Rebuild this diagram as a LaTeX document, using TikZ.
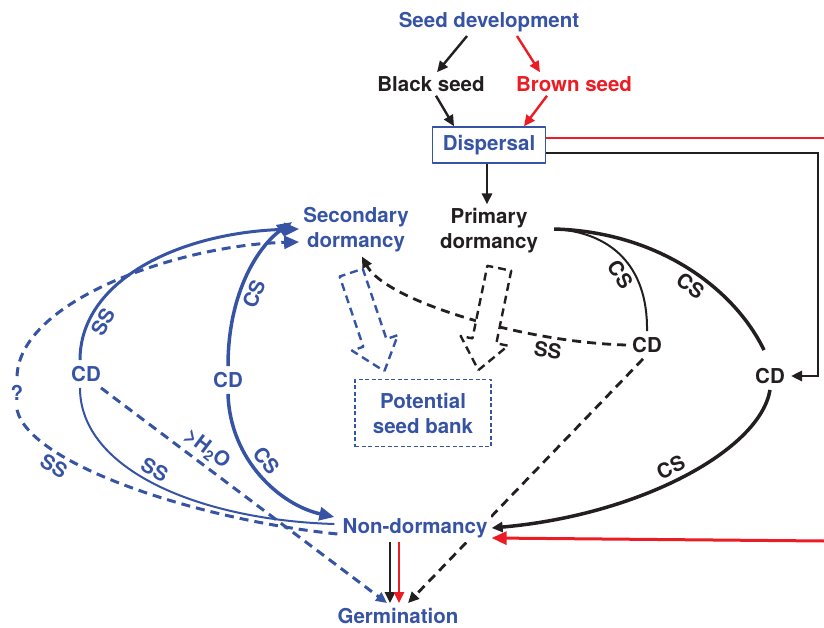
\documentclass[tikz,border=0pt]{standalone}
\usepackage{fontspec}
\setmainfont{TeX Gyre Heros}
\usetikzlibrary{arrows.meta,calc,shapes.arrows,backgrounds}

\definecolor{seedblue}{RGB}{55,84,164}
\definecolor{seedred}{RGB}{236,28,36}
\definecolor{seedblack}{RGB}{35,31,32}

\tikzset{
    every node/.style={font=\fontsize{20.5}{25}\selectfont\bfseries, inner sep=4pt},
    stage/.style={text=seedblue, align=center},
    cue/.style={inner sep=6pt},
    lab/.style={sloped, inner sep=4pt},
    dsh/.style={dash pattern=on 9pt off 6pt},
    arr/.style={-{Triangle[length=11pt,width=10pt]}},
    barr/.style={-{Triangle[length=15pt,width=13pt]}},
    hollow/.style={single arrow, draw, fill=white, line width=2.4pt, dash pattern=on 8pt off 5pt,
        minimum height=104pt, inner sep=11pt, single arrow head extend=12pt,
        single arrow tip angle=78, anchor=tip},
}

\begin{document}
\begin{tikzpicture}[x=1pt, y=-1pt, line join=round]
    \useasboundingbox (0,0) rectangle (824,628);
    % Stages
    \node [stage] (dev) at (489,22) {Seed development};
    \node [text=seedblack] (black) at (431,84) {Black seed};
    \node [text=seedred] (brown) at (574,84) {Brown seed};
    \node [stage, draw=seedblue, line width=1.5pt, minimum width=113pt, minimum height=36pt] (disp) at (489,145) {Dispersal};
    \node [text=seedblack, align=center] (prim) at (489,231) {Primary\\dormancy};
    \node [stage] (sec) at (356,230) {Secondary\\dormancy};
    \node [stage, draw=seedblue, line width=1.8pt, dash pattern=on 4pt off 2.5pt, minimum width=136pt, minimum height=67pt] (bank) at (423,413) {Potential\\seed bank};
    \node [stage, fill=white] (nond) at (415,528) {Non-dormancy};
    \node [stage] (germ) at (398,616) {Germination};
    % Cue nodes
    \node [cue, text=seedblue] (cdL) at (86,374) {CD};
    \node [cue, text=seedblue] (cdM) at (228,380) {CD};
    \node [cue, text=seedblack] (cdB) at (647,345) {CD};
    \node [cue, text=seedblack] (cdR) at (770,376) {CD};
    \node [text=seedblue, inner sep=9pt] (qm) at (17,393) {?};
    \coordinate (edgeA) at (824,138);
    \coordinate (edgeB) at (824,541);
    % Seed development to dispersal
    \draw [arr, seedblack, line width=2.4pt] ($(dev.south)+(-22,0)$) -- ($(black.north)+(6,0)$);
    \draw [arr, seedred, line width=2.4pt] ($(dev.south)+(28,0)$) -- ($(brown.north)+(-34,0)$);
    \draw [arr, seedblack, line width=2.4pt] ($(black.south)+(5,0)$) -- ($(disp.north)+(-35,0)$);
    \draw [arr, seedred, line width=2.4pt] ($(brown.south)+(-27,0)$) -- ($(disp.north)+(35,0)$);
    \draw [arr, seedblack, line width=2.8pt] ($(disp.south)+(-2,0)$) -- ($(prim.north)+(-2,0)$);
    \draw [seedred, line width=2.4pt] ($(disp.east)+(0,-7)$) -- (edgeA);
    \draw [arr, seedblack, line width=2.8pt, line join=miter] ($(disp.east)+(0,8)$) -| ($(cdR.east)+(27,0)$) -- (cdR.east);
    % Black seed pathways
    \coordinate (pe) at ($(prim.east)+(12,-2)$);
    \draw [seedblack, line width=2pt] (pe) .. controls (610,232) and (648,265) .. (cdB.north) node [lab, pos=0.6, below] {CS};
    \draw [seedblack, line width=3.5pt] (pe) .. controls (660,232) and (735,290) .. ($(cdR.north)+(-6,-12)$) node [lab, pos=0.55, below] {CS};
    \draw [arr, seedblack, line width=3.5pt] (cdR.south) .. controls (760,450) and (640,515) .. (nond.east) node [lab, pos=0.52, above] {CS};
    \draw [arr, seedblack, line width=2.8pt, dsh] (cdB.west) .. controls (520,342) and (385,300) .. ($(sec.south)+(6,0)$) node [lab, pos=0.23, below] {SS};
    \begin{scope}[on background layer]
        \draw [arr, seedblack, line width=2.8pt, dsh] ($(cdB.south)+(-4,0)$) -- ($(germ.north)+(10,-1)$);
    \end{scope}
    % Brown seed pathway
    \draw [barr, seedred, line width=3pt] (edgeB) -- ($(nond.east)+(0,10)$);
    % Secondary dormancy cycling
    \draw [barr, seedblue, line width=3pt] ($(cdL.north)+(-6,0)$) .. controls (80,280) and (180,232) .. ($(sec.west)+(0,-1)$) node [lab, pos=0.2, below] {SS};
    \draw [barr, seedblue, line width=3.5pt] (cdM.north) .. controls (228,290) and (260,245) .. ($(sec.west)+(-7,-8)$) node [lab, pos=0.4, below] {CS};
    \draw [barr, seedblue, line width=3.5pt] (cdM.south) .. controls (230,460) and (280,505) .. ($(nond.west)+(-4,-11)$) node [lab, pos=0.45, above] {CS};
    \draw [seedblue, line width=2pt] ($(cdL.south)+(-6,0)$) .. controls (80,470) and (200,520) .. ($(nond.west)+(-4,-4)$) node [lab, pos=0.47, above] {SS};
    \draw [seedblue, line width=3pt, dsh] ($(nond.west)+(-1,6)$) .. controls (200,520) and (30,465) .. (qm.south) node [lab, pos=0.72, below] {SS};
    \draw [barr, seedblue, line width=3pt, dsh] (qm.north) .. controls (20,300) and (180,245) .. ($(sec.west)+(0,12)$);
    \draw [arr, seedblue, line width=3pt, dsh] ($(cdL.south east)+(-6,0)$) -- ($(germ.north)+(-11,-1)$) node [lab, pos=0.34, above] {>H\textsubscript{2}O};
    % Germination
    \draw [arr, seedblack, line width=2.4pt] ($(nond.south)+(-25,0)$) -- ($(germ.north)+(-8,-1)$);
    \draw [arr, seedred, line width=2.4pt] ($(nond.south)+(-16,0)$) -- ($(germ.north)+(1,-1)$);
    % Entry into the seed bank
    \node [hollow, draw=seedblue, rotate=-71.4] (secArr) at (385,373) {};
    \node [hollow, draw=seedblack, rotate=-101.6] (primArr) at (478,372) {};
\end{tikzpicture}
\end{document}
